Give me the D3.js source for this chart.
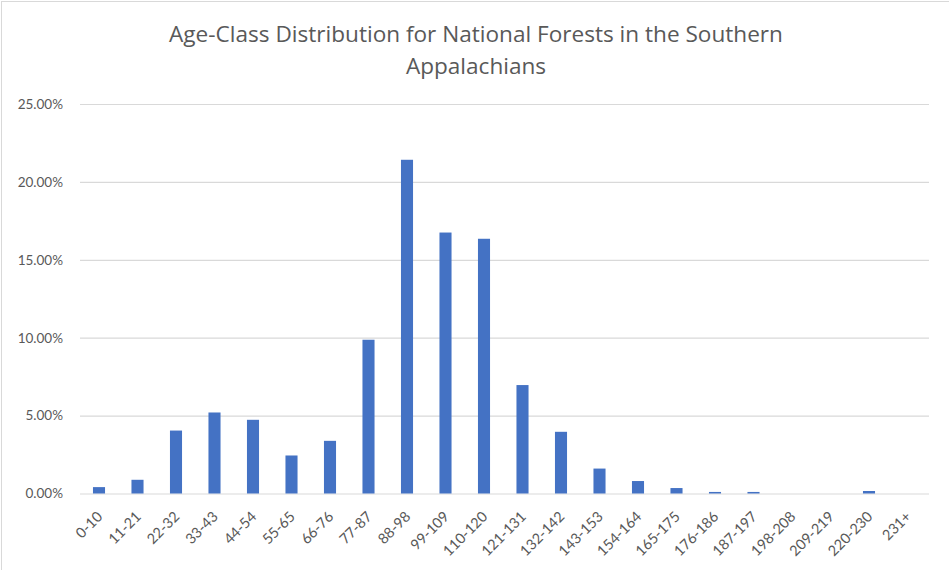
<!DOCTYPE html>
<html>
<head>
<meta charset="utf-8">
<script src="https://cdn.jsdelivr.net/npm/d3@7/dist/d3.min.js"></script>
<style>
  body { margin: 0; background: #fff; }
  svg { display: block; }
  text { font-family: Lato, "Open Sans", sans-serif; fill: #595959; }
</style>
</head>
<body>
<svg id="chart" width="949" height="570"></svg>
<script>
// age classes (years) along the x axis
const ageClasses = ['0-10', '11-21', '22-32', '33-43', '44-54', '55-65', '66-76',
  '77-87', '88-98', '99-109', '110-120', '121-131', '132-142', '143-153',
  '154-164', '165-175', '176-186', '187-197', '198-208', '209-219',
  '220-230', '231+'];

// share of forest area in each class, percent
const sharePct = [0.41, 0.88, 4.04, 5.2, 4.73, 2.44, 3.38, 9.87, 21.42, 16.75,
  16.35, 6.96, 3.96, 1.6, 0.8, 0.35, 0.1, 0.1, 0, 0, 0.16, 0];

const yTicks = [0, 5, 10, 15, 20, 25];

const titleLines = ['Age-Class Distribution for National Forests in the Southern',
  'Appalachians'];

const W = 949, H = 570;
const plot = { left: 79.75, right: 926.75, top: 104, bottom: 493.5 };
const gapWidth = 2.19; // excel default gap
const titleWidth = 614; // first title line, as measured on the original

var svg = d3.select('#chart');

// chart frame, only top & left edges fall inside the picture
svg.append('rect')
  .attr('x', 1.5).attr('y', 1.5)
  .attr('width', W + 20).attr('height', H + 20)
  .attr('fill', 'none')
  .attr('stroke', '#d9d9d9');

var pad = gapWidth / (1 + gapWidth);
var x = d3.scaleBand()
  .domain(ageClasses)
  .range([plot.left, plot.right])
  .paddingInner(pad)
  .paddingOuter(pad / 2);

var y = d3.scaleLinear()
  .domain([0, 25])
  .range([plot.bottom, plot.top]);

// gridlines + y labels
var yAxis = d3.axisLeft(y)
  .tickValues(yTicks)
  .tickSize(-(plot.right - plot.left + 2))
  .tickPadding(17)
  .tickFormat(d => d.toFixed(2) + '%');

var yG = svg.append('g')
  .attr('transform', `translate(${plot.left + 0.25},0)`)
  .call(yAxis);
yG.select('.domain').remove();
yG.selectAll('.tick line').attr('stroke', '#d9d9d9').attr('stroke-width', 1.2);
yG.selectAll('.tick text')
  .style('font-size', '13.5px')
  .attr('fill', '#595959');

// bars
svg.append('g')
  .selectAll('rect')
  .data(sharePct)
  .join('rect')
  .attr('x', (d, i) => x(ageClasses[i]))
  .attr('width', x.bandwidth())
  .attr('y', d => y(d))
  .attr('height', d => y(0) - y(d))
  .attr('fill', '#4472c4');

// x labels, rotated
var xAxis = d3.axisBottom(x).tickSize(0).tickPadding(0);
var xG = svg.append('g')
  .attr('transform', `translate(0,${plot.bottom})`)
  .call(xAxis);
xG.select('.domain').remove();
xG.selectAll('.tick text')
  .style('font-size', '14.5px')
  .attr('fill', '#595959')
  .attr('text-anchor', 'end')
  .attr('dy', null)
  .attr('y', 0)
  .attr('transform', 'translate(4.5,24) rotate(-45)');

// title
var title = svg.append('g')
  .selectAll('text')
  .data(titleLines)
  .join('text')
  .attr('x', 476)
  .attr('y', (d, i) => 42 + i * 32)
  .attr('text-anchor', 'middle')
  .style('font-family', '"Open Sans", Lato, sans-serif')
  .style('font-size', '20px')
  .text(d => d);

// fit first line to the original's width
var w0 = title.node().getComputedTextLength();
title.style('font-size', (20 * titleWidth / w0).toFixed(2) + 'px');
</script>
</body>
</html>
